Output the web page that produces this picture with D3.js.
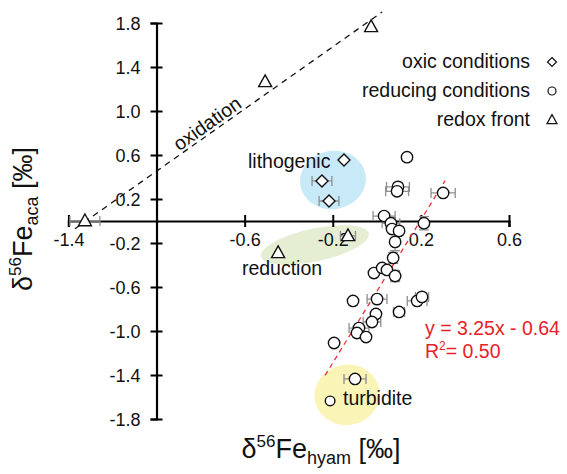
<!DOCTYPE html>
<html><head><meta charset="utf-8">
<script src="https://cdn.jsdelivr.net/npm/d3@7"></script>
<style>
body{margin:0;background:#fff;}
svg text{font-family:"Liberation Sans",Arial,Helvetica,sans-serif;}
</style></head>
<body>
<svg id="c" width="567" height="474"></svg>
<script>
// ---- data ----
const xTicks = [-1.4, -0.6, -0.2, 0.2, 0.6];
const yTicks = [1.8, 1.4, 1.0, 0.6, 0.2, -0.2, -0.6, -1.0, -1.4, -1.8];
const xTickLabels = ["-1.4", "-0.6", "-0.2", "0.2", "0.6"];
const yTickLabels = ["1.8", "1.4", "1.0", "0.6", "0.2", "-0.2", "-0.6", "-1.0", "-1.4", "-1.8"];

const oxicX    = [-0.149, -0.249, -0.217];
const oxicY    = [0.555, 0.364, 0.182];
const oxicXerr = [0, 0.045, 0.045];
const oxicYerr = [0, 0, 0];

const reducX = [0.137, 0.096, 0.092, 0.301, 0.033, 0.064, 0.214, 0.069, 0.101, 0.083, 0.074,
                -0.013, 0.024, 0.046, 0.083, -0.108, 0.001, 0.183, 0.205, 0.101, -0.004,
                -0.022, -0.081, -0.090, -0.049, -0.194, -0.099, -0.212];
const reducY = [0.58, 0.31, 0.27, 0.255, 0.045, -0.02, -0.02, -0.073, -0.09, -0.19, -0.336,
                -0.473, -0.427, -0.445, -0.50, -0.727, -0.71, -0.727, -0.69, -0.827, -0.845,
                -0.918, -0.973, -1.018, -1.055, -1.109, -1.436, -1.636];
const reducXerr = [0, 0.052, 0.052, 0.055, 0.05, 0.04, 0, 0, 0, 0, 0,
                   0, 0, 0, 0.02, 0, 0.045, 0.045, 0.03, 0.025, 0,
                   0.04, 0.045, 0, 0, 0, 0.05, 0];
const reducYerr = [0.03, 0, 0, 0, 0, 0.05, 0.06, 0, 0, 0.08, 0.05,
                   0, 0, 0, 0.05, 0, 0, 0, 0.03, 0, 0,
                   0, 0, 0, 0, 0, 0, 0];

const redoxX    = [-1.325, -0.507, -0.026, -0.448, -0.131];
const redoxY    = [0.0, 1.264, 1.764, -0.29, -0.136];
const redoxXerr = [0.068, 0, 0, 0, 0.034];
const redoxYerr = [0, 0, 0, 0, 0];

const legendLabels = ["oxic conditions", "reducing conditions", "redox front"];

const regSlope = 3.25, regIntercept = -0.64, regXRange = [-0.235, 0.31];
const oxLineX = [-1.37, 0.024];
const oxLineY = [-0.07, 1.9];

// ---- scales ----
const svg = d3.select("#c");
const x = d3.scaleLinear().domain([-1.4, 0.6]).range([68.4, 509]);
const y = d3.scaleLinear().domain([-1.8, 1.8]).range([419, 23]);
const x0 = x(-1.0), y0 = y(0);

// ---- background blobs ----
function blob(cx, cy, rx, ry, rot, fill) {
  svg.append("ellipse")
    .attr("cx", x(cx)).attr("cy", y(cy))
    .attr("rx", x(cx + rx) - x(cx)).attr("ry", y(cy) - y(cy + ry))
    .attr("transform", `rotate(${rot},${x(cx)},${y(cy)})`)
    .attr("fill", fill);
}
blob(-0.199, 0.373, 0.150, 0.265, -10, "#c8e9f7");
blob(-0.281, -0.218, 0.250, 0.150, -12, "#e5edd3");
blob(-0.135, -1.58, 0.148, 0.275, -10, "#faf4b6");

// ---- axes ----
const ax = svg.append("g").attr("transform", `translate(0,${y0})`)
  .call(d3.axisBottom(x).tickValues(xTicks).tickFormat((d,i)=>xTickLabels[i]).tickSizeOuter(0).tickSize(6));
ax.select(".domain").attr("stroke-width", 2.2);
ax.selectAll(".tick line").attr("y1", -6).attr("y2", 6).attr("stroke-width", 2);
ax.selectAll(".tick text").attr("y", 19).attr("dy", "0.35em")
  .attr("font-size", 18).attr("font-family", "Liberation Sans, Arial, sans-serif").attr("fill", "#111");

const ay = svg.append("g").attr("transform", `translate(${x0},0)`)
  .call(d3.axisLeft(y).tickValues(yTicks).tickFormat((d,i)=>yTickLabels[i]).tickSizeOuter(0).tickSize(6));
ay.select(".domain").attr("stroke-width", 2.2);
ay.selectAll(".tick line").attr("x1", -6).attr("x2", 6).attr("stroke-width", 2);
ay.selectAll(".tick text").attr("x", -16).attr("dy", "0.35em")
  .attr("font-size", 18).attr("font-family", "Liberation Sans, Arial, sans-serif").attr("fill", "#111");

// ---- lines ----
svg.append("line")
  .attr("x1", x(oxLineX[0])).attr("y1", y(oxLineY[0]))
  .attr("x2", x(oxLineX[1])).attr("y2", y(oxLineY[1]))
  .attr("stroke", "#111").attr("stroke-width", 1.3).attr("stroke-dasharray", "6,5");
svg.append("line")
  .attr("x1", x(regXRange[0])).attr("y1", y(regSlope*regXRange[0] + regIntercept))
  .attr("x2", x(regXRange[1])).attr("y2", y(regSlope*regXRange[1] + regIntercept))
  .attr("stroke", "#e8303a").attr("stroke-width", 1.3).attr("stroke-dasharray", "5,4");

// ---- error bars ----
const errG = svg.append("g").attr("stroke", "#8f8f8f").attr("stroke-width", 1.3).attr("fill", "none");
function errBars(X, Y, XE, YE) {
  X.forEach((vx, i) => {
    const px = x(vx), py = y(Y[i]);
    if (XE[i] > 0) {
      const a = x(vx - XE[i]), b = x(vx + XE[i]);
      errG.append("path").attr("d", `M${a},${py}H${b}M${a},${py-5}V${py+5}M${b},${py-5}V${py+5}`);
    }
    if (YE[i] > 0) {
      const a = y(Y[i] - YE[i]), b = y(Y[i] + YE[i]);
      errG.append("path").attr("d", `M${px},${a}V${b}M${px-5},${a}H${px+5}M${px-5},${b}H${px+5}`);
    }
  });
}
errBars(oxicX, oxicY, oxicXerr, oxicYerr);
errBars(reducX, reducY, reducXerr, reducYerr);
errBars(redoxX, redoxY, redoxXerr, redoxYerr);

// ---- markers ----
function diamondPath(s){ return `M0,${-s}L${s},0L0,${s}L${-s},0Z`; }
function triPath(w){ const h = w*0.9; return `M0,${-h*0.6}L${w/2},${h*0.4}L${-w/2},${h*0.4}Z`; }
const mk = svg.append("g").attr("fill", "#fff").attr("stroke", "#111").attr("stroke-width", 1.4);
oxicX.forEach((vx,i)=> mk.append("path").attr("d", diamondPath(6))
  .attr("transform", `translate(${x(vx)},${y(oxicY[i])})`));
reducX.forEach((vx,i)=> mk.append("circle").attr("cx", x(vx)).attr("cy", y(reducY[i]))
  .attr("r", i === reducX.length-1 ? 4.8 : 5.7));
redoxX.forEach((vx,i)=> mk.append("path").attr("d", triPath(13))
  .attr("transform", `translate(${x(vx)},${y(redoxY[i])})`));

// ---- legend ----
const lg = svg.append("g");
const legY = [61, 90, 119];
legendLabels.forEach((t,i)=>{
  lg.append("text").attr("x", 530).attr("y", legY[i]).attr("dy","0.35em")
    .attr("text-anchor","end").attr("font-size", 19.5).attr("fill","#111").text(t);
});
lg.append("path").attr("d", diamondPath(4.5)).attr("transform", `translate(552,${legY[0]+1})`)
  .attr("fill","#fff").attr("stroke","#111").attr("stroke-width",1.2);
lg.append("circle").attr("cx",552).attr("cy",legY[1]+1).attr("r",4)
  .attr("fill","#fff").attr("stroke","#111").attr("stroke-width",1.2);
lg.append("path").attr("d", triPath(10)).attr("transform", `translate(552,${legY[2]+1})`)
  .attr("fill","#fff").attr("stroke","#111").attr("stroke-width",1.2);

// ---- annotations ----
const ann = svg.append("g").attr("font-size", 19.5).attr("fill", "#111");
ann.append("text").attr("x", 248).attr("y", 168).text("lithogenic");
ann.append("text").attr("x", 282).attr("y", 275).attr("text-anchor","middle").text("reduction");
ann.append("text").attr("x", 343).attr("y", 405).text("turbidite");
ann.append("text").attr("text-anchor","middle")
  .attr("transform", "translate(211,129) rotate(-35.3)").text("oxidation");

const reg = svg.append("g").attr("font-size", 19.5).attr("fill", "#e8202a");
reg.append("text").attr("x", 425).attr("y", 335).text("y = 3.25x - 0.64");
const r2 = reg.append("text").attr("x", 425).attr("y", 358);
r2.append("tspan").text("R");
r2.append("tspan").attr("font-size", 12).attr("dy", -8).text("2");
r2.append("tspan").attr("dy", 8).text("= 0.50");

// ---- axis titles ----
const yt = svg.append("text").attr("transform", "translate(32,219) rotate(-90)")
  .attr("text-anchor","middle").attr("font-size", 27).attr("fill","#111");
yt.append("tspan").text("δ");
yt.append("tspan").attr("font-size", 17).attr("dy", -11).text("56");
yt.append("tspan").attr("dy", 11).text("Fe");
yt.append("tspan").attr("font-size", 18).attr("dy", 6).text("aca");
yt.append("tspan").attr("dy", -6).text(" [‰]");

const xt = svg.append("text").attr("x", 321).attr("y", 458)
  .attr("text-anchor","middle").attr("font-size", 27).attr("fill","#111");
xt.append("tspan").text("δ");
xt.append("tspan").attr("font-size", 17).attr("dy", -11).text("56");
xt.append("tspan").attr("dy", 11).text("Fe");
xt.append("tspan").attr("font-size", 18).attr("dy", 6).text("hyam");
xt.append("tspan").attr("dy", -6).text(" [‰]");
</script>
</body></html>
